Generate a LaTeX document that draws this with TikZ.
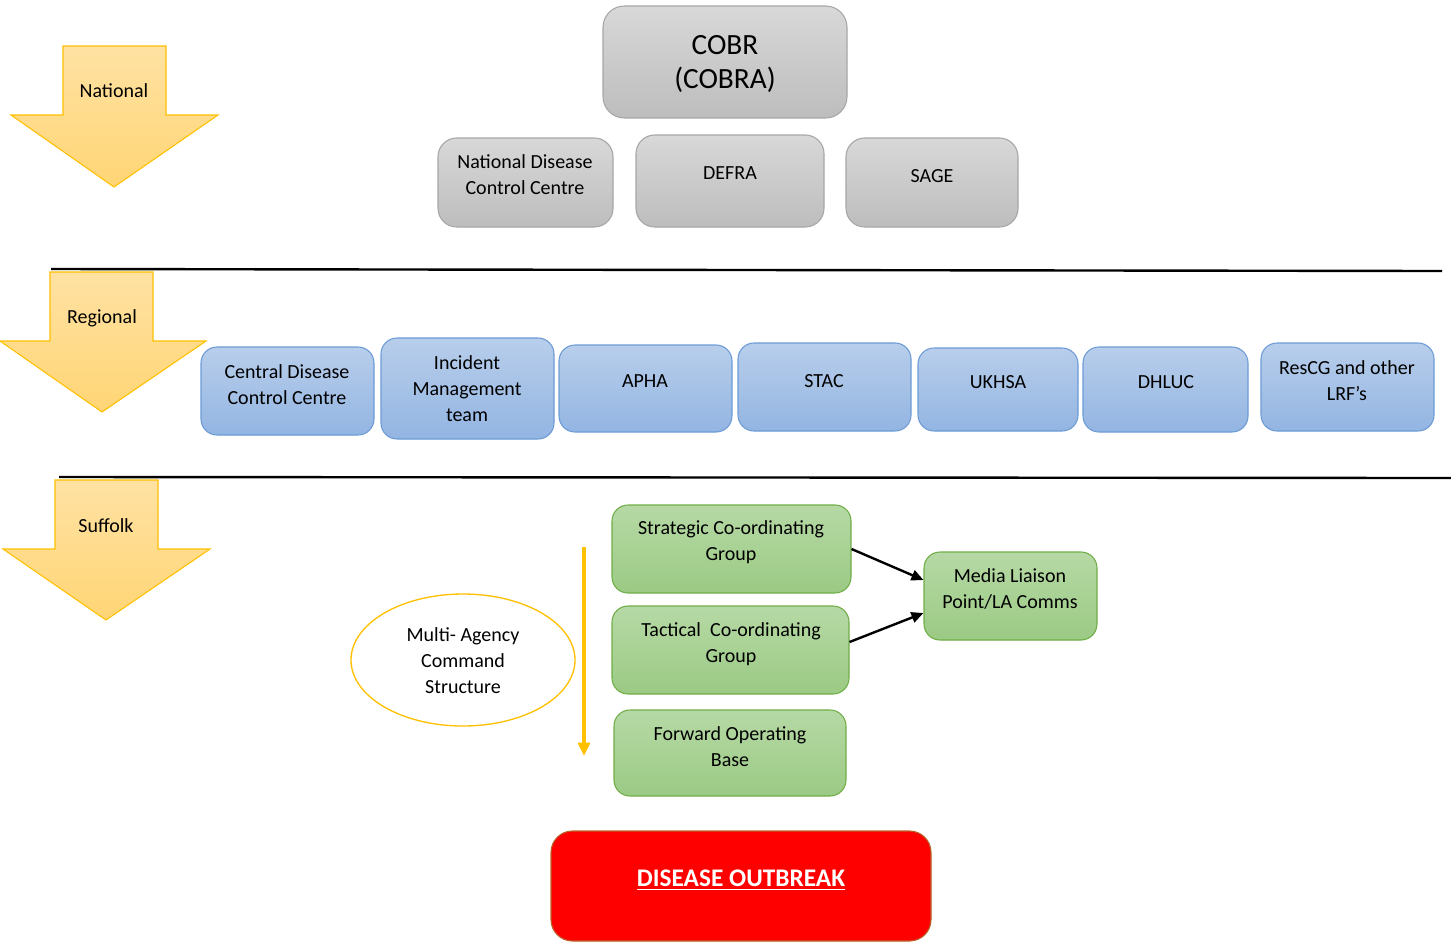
\documentclass[tikz,border=0pt]{standalone}
\usepackage{fontspec}
\setmainfont{Carlito}
\usetikzlibrary{fit,shapes.geometric,arrows.meta,calc}
\definecolor{grayT}{HTML}{D8D8D8}
\definecolor{grayB}{HTML}{BDBDBD}
\definecolor{grayE}{HTML}{A6A6A6}
\definecolor{blueT}{HTML}{B8CEEB}
\definecolor{blueB}{HTML}{93B5E2}
\definecolor{blueE}{HTML}{6C9BD6}
\definecolor{greenT}{HTML}{B6D9A5}
\definecolor{greenB}{HTML}{9BCA84}
\definecolor{greenE}{HTML}{70AD47}
\definecolor{yelT}{HTML}{FFE2A3}
\definecolor{yelB}{HTML}{FFD575}
\definecolor{yelE}{HTML}{FFC000}
\definecolor{redE}{HTML}{B8632A}
\tikzset{
  base/.style={rounded corners=14pt, inner sep=0pt, line width=0.8pt},
  graybox/.style={base, draw=grayE, top color=grayT, bottom color=grayB},
  bluebox/.style={base, rounded corners=12pt, draw=blueE, top color=blueT, bottom color=blueB},
  greenbox/.style={base, rounded corners=12pt, draw=greenE, top color=greenT, bottom color=greenB},
  txt/.style={align=center, font=\fontsize{15}{19.5}\selectfont, inner sep=0pt},
  bigtxt/.style={align=center, font=\fontsize{22}{26}\selectfont, inner sep=0pt},
  levelarrow/.style={draw=yelE, line width=0.8pt, top color=yelT, bottom color=yelB},
  sepline/.style={line width=1.8pt, black},
  conn/.style={line width=1.8pt, -{Triangle[length=9pt,width=8pt]}},
}
\begin{document}
\begin{tikzpicture}[x=0.75pt, y=-0.75pt]
\useasboundingbox (0,0) rectangle (1451,943);

% level arrows
\draw[levelarrow] (63,46) -- (166,46) -- (166,115) -- (218,115) -- (114,187) -- (11,115) -- (63,115) -- cycle;
\node[txt] (national) at (114,91) {National};
\draw[levelarrow] (50,272) -- (153,272) -- (153,341) -- (206,341) -- (102,412) -- (0,341) -- (50,341) -- cycle;
\node[txt] (regional) at (102,318) {Regional};
\draw[levelarrow] (55,480) -- (158,480) -- (158,549) -- (210,549) -- (106,620) -- (3,549) -- (55,549) -- cycle;
\node[txt] (suffolk) at (106,526) {Suffolk};

% separator lines
\coordinate (l1a) at (51,269); \coordinate (l1b) at (1442,271);
\coordinate (l2a) at (59,477); \coordinate (l2b) at (1451,478);
\draw[sepline] (l1a) -- (l1b);
\draw[sepline] (l2a) -- (l2b);

% national
\node[graybox, rounded corners=16pt, fit={(603,6) (847,118)}] (cobr) {};
\node[bigtxt] (cobrT) at (725,64) {COBR\\(COBRA)};
\node[graybox, fit={(438,138) (613,227)}] (ndcc) {};
\node[txt] (ndccT) at (525,175) {National Disease\\Control Centre};
\node[graybox, fit={(636,135) (824,227)}] (defra) {};
\node[txt] (defraT) at (730,173) {DEFRA};
\node[graybox, fit={(846,138) (1018,227)}] (sage) {};
\node[txt] (sageT) at (932,176) {SAGE};

% regional
\node[bluebox, fit={(201,347) (374,435)}] (cdcc) {};
\node[txt] (cdccT) at (287,385) {Central Disease\\Control Centre};
\node[bluebox, fit={(381,338) (554,439)}] (imt) {};
\node[txt] (imtT) at (467,389) {Incident\\Management\\team};
\node[bluebox, fit={(559,345) (732,432)}] (apha) {};
\node[txt] (aphaT) at (645,381) {APHA};
\node[bluebox, fit={(738,343) (911,431)}] (stac) {};
\node[txt] (stacT) at (824,381) {STAC};
\node[bluebox, fit={(918,348) (1078,431)}] (ukhsa) {};
\node[txt] (ukhsaT) at (998,382) {UKHSA};
\node[bluebox, fit={(1083,347) (1248,432)}] (dhluc) {};
\node[txt] (dhlucT) at (1166,382) {DHLUC};
\node[bluebox, fit={(1261,343) (1434,431)}] (rescg) {};
\node[txt] (rescgT) at (1347,381) {ResCG and other\\LRF’s};

% suffolk
\node[greenbox, fit={(612,505) (851,593)}] (scg) {};
\node[txt] (scgT) at (731,542) {Strategic Co-ordinating\\Group};
\node[greenbox, fit={(612,606) (849,694)}] (tcg) {};
\node[txt] (tcgT) at (731,644) {Tactical\ \ Co-ordinating\\Group};
\node[greenbox, fit={(614,710) (846,796)}] (fob) {};
\node[txt] (fobT) at (730,747) {Forward Operating\\Base};
\node[greenbox, fit={(924,552) (1097,640)}] (media) {};
\node[txt] (mediaT) at (1010,589) {Media Liaison\\Point/LA Comms};

\draw[conn] ($(scg.east)+(0,0)$) -- ($(media.west)+(0,-16)$);
\draw[conn] ($(tcg.east)+(0,-8)$) -- ($(media.west)+(0,17)$);

% multi-agency
\node[ellipse, draw=yelE, line width=1pt, fill=white, minimum width=168pt, minimum height=99pt, inner sep=0pt] (mac) at (463,660) {};
\node[txt] (macT) at (463,661) {Multi- Agency\\Command\\Structure};
\coordinate (oa) at (584,547); \coordinate (ob) at (584,756);
\draw[yelE, line width=2.4pt, -{Triangle[length=10pt,width=9pt]}] (oa) -- (ob);

% outbreak
\node[base, rounded corners=16pt, draw=redE, fill=red, fit={(551,831) (931,941)}] (ob1) {};
\node[inner sep=0pt, text=white, font=\fontsize{19}{22}\selectfont\bfseries] (obT) at (741,880) {\underline{DISEASE OUTBREAK}};
\end{tikzpicture}
\end{document}
